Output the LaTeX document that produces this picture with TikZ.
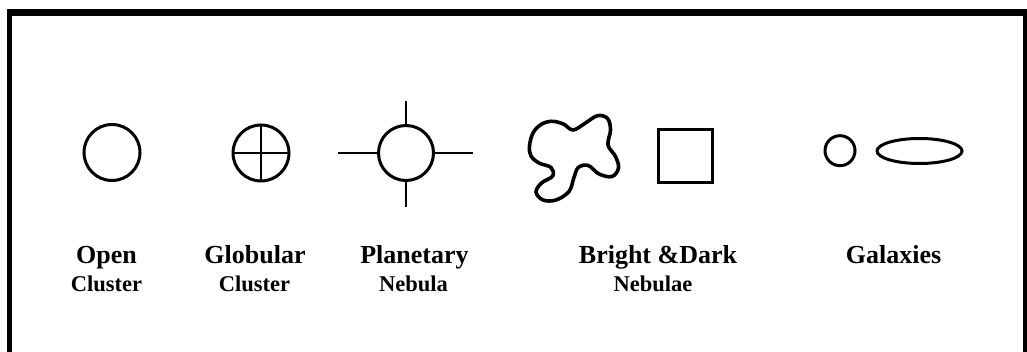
\documentclass[tikz,border=0pt]{standalone}
\usepackage{fontspec}
\setmainfont{Liberation Serif}
\usetikzlibrary{shapes.geometric}
\begin{document}
\begin{tikzpicture}[x=1pt,y=-1pt,
  sym/.style={draw,line width=3pt,inner sep=0pt,outer sep=0pt},
  circ/.style={sym,circle,minimum size=#1},
  tick/.style={line width=2.6pt},
  big/.style={font=\fontsize{26}{28}\selectfont\bfseries,anchor=base,inner sep=0pt},
  small/.style={font=\fontsize{22.5}{24}\selectfont\bfseries,anchor=base,inner sep=0pt}]
\useasboundingbox (0,0) rectangle (1027,352);
% frame
\coordinate (ftl) at (7,12.5);
\coordinate (ftr) at (1027,12.5);
\coordinate (fl1) at (9.5,9);
\coordinate (fl2) at (9.5,352);
\coordinate (fr1) at (1025,9);
\coordinate (fr2) at (1025,352);
\draw[line width=7pt] (ftl) -- (ftr);
\draw[line width=5pt] (fl1) -- (fl2);
\draw[line width=3.5pt] (fr1) -- (fr2);
% open cluster
\node[circ=56pt] (oc) at (112,152.5) {};
% globular cluster
\node[circ=56pt] (gc) at (261,153) {};
\draw[tick] (gc.north) -- (gc.south);
\draw[tick] (gc.west) -- (gc.east);
% planetary nebula
\node[circ=55pt] (pn) at (406,153) {};
\coordinate (pnt) at (406,101);
\coordinate (pnb) at (406,207);
\coordinate (pnl) at (338,153);
\coordinate (pnr) at (473,153);
\draw[tick] (pn.north) -- (pnt);
\draw[tick] (pn.south) -- (pnb);
\draw[tick] (pn.west) -- (pnl);
\draw[tick] (pn.east) -- (pnr);
% bright nebula blob
\draw[line width=3.6pt] plot[smooth cycle,tension=0.6] coordinates {
 (529.5,146.0) (533.0,133.0) (541.0,124.5) (551.7,121.3) (563.3,124.0) (573.0,130.0)
 (585.0,123.3) (597.5,115.7) (607.5,118.5) (610.5,130.0) (608.0,145.0)
 (615.5,156.5) (618.5,168.0) (612.0,176.5) (599.0,174.0) (588.3,165.5)
 (578.3,167.5) (573.8,178.0) (569.0,191.5) (556.0,200.0) (543.0,200.0)
 (536.0,192.0) (541.5,183.0) (552.7,176.0) (551.0,167.5) (539.0,163.0)
 (531.0,156.0)};
% dark nebula square
\node[sym,rectangle,minimum width=54.5pt,minimum height=52.5pt] (dn) at (685.3,156) {};
% galaxies
\node[circ=30pt] (g1) at (840,150.7) {};
\node[sym,ellipse,minimum width=85pt,minimum height=25pt] (g2) at (919.5,151) {};
% labels
\node[big] (t1) at (106.5,264) {Open};
\node[small] (t2) at (106.5,292) {Cluster};
\node[big] (t3) at (255,264) {Globular};
\node[small] (t4) at (254.5,292) {Cluster};
\node[big] (t5) at (414.5,264) {Planetary};
\node[small] (t6) at (413.5,292) {Nebula};
\node[big] (t7) at (658,264) {Bright \&Dark};
\node[small] (t8) at (653,292) {Nebulae};
\node[big] (t9) at (893.5,264) {Galaxies};
\end{tikzpicture}
\end{document}
